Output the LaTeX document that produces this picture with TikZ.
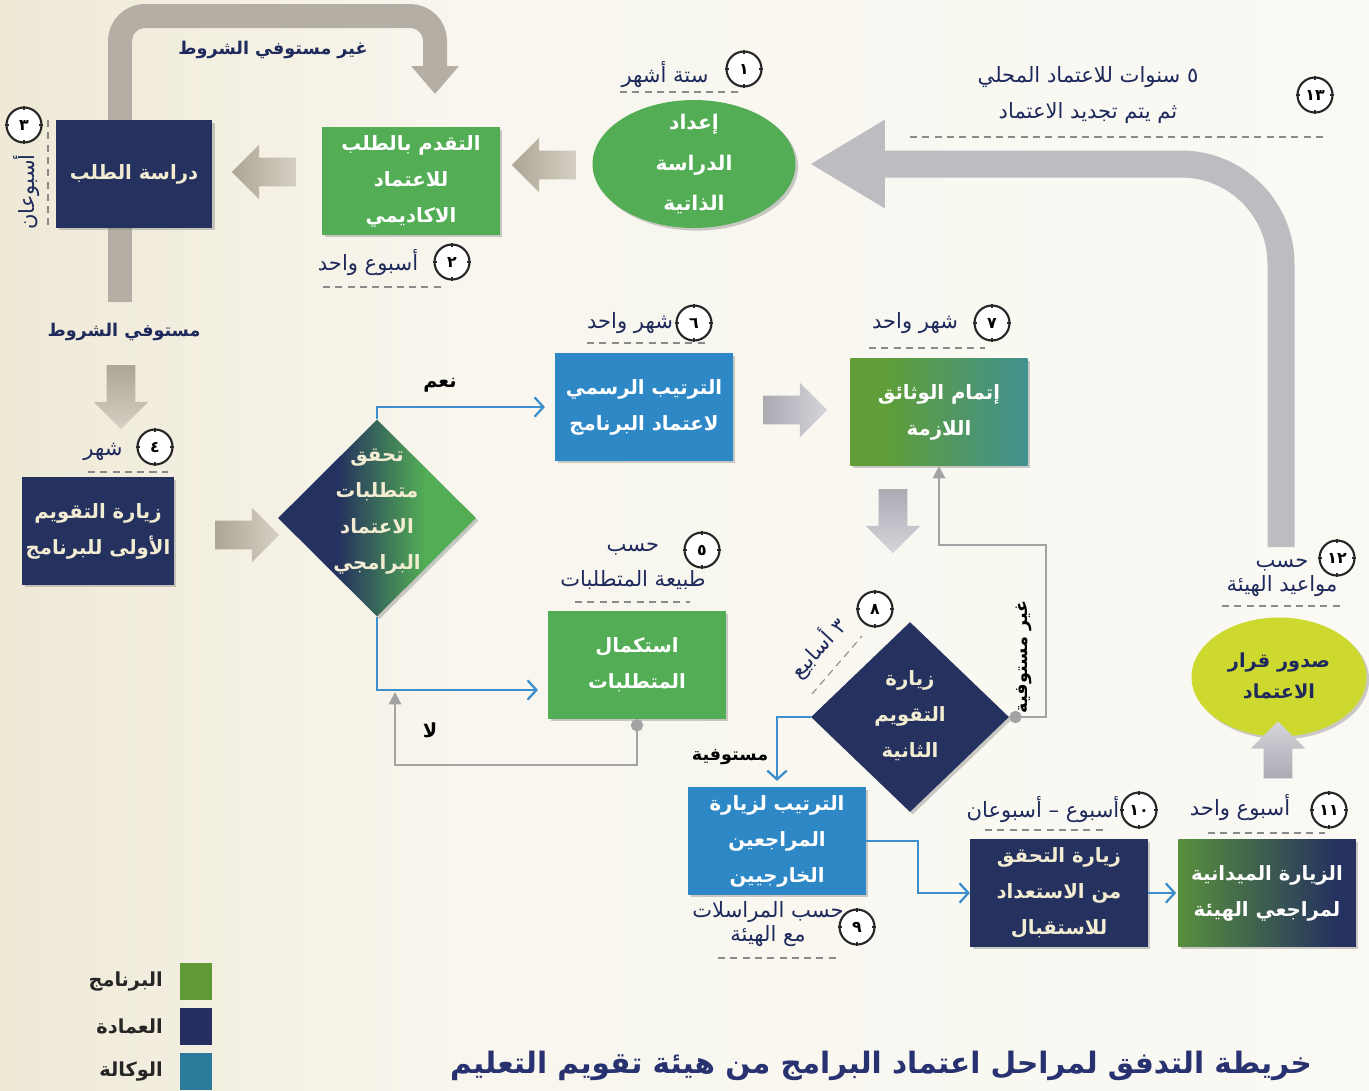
\documentclass[tikz,border=0pt]{standalone}
\usepackage{fontspec}
\usetikzlibrary{calc,shapes.geometric,shapes.arrows,arrows.meta,shadows}
\newfontfamily\arabicfont[Script=Arabic]{DejaVu Sans}
\TeXXeTstate=1
\def\rtl#1{\beginR#1\endR}
\def\boxfont{\arabicfont\bfseries\fontsize{11.2}{20.5}\selectfont}
\def\tagfont{\arabicfont\fontsize{12}{20}\selectfont}
\def\lblfont{\arabicfont\bfseries\fontsize{10}{13}\selectfont}

\definecolor{dnavy}{HTML}{25315F}
\definecolor{pgreen}{HTML}{52AD55}
\definecolor{lgreen}{HTML}{5F9E38}
\definecolor{vblue}{HTML}{2F88C6}
\definecolor{yellowgreen}{HTML}{CDD92E}
\definecolor{legteal}{HTML}{2C7A9A}
\definecolor{legnavy}{HTML}{263060}
\definecolor{leggreen}{HTML}{5F9A37}
\definecolor{cream}{HTML}{F2ECD2}
\definecolor{lblnavy}{HTML}{1F2A5C}
\definecolor{linkblue}{HTML}{3C8ECD}
\definecolor{linkgray}{HTML}{A3A3A3}
\definecolor{ugray}{HTML}{B5AEA4}
\definecolor{bgray}{HTML}{BDBCC1}
\definecolor{arrdark}{HTML}{ADA595}
\definecolor{arrlight}{HTML}{D6D0C4}
\definecolor{arrdarkb}{HTML}{ABAAB3}
\definecolor{arrlightb}{HTML}{D5D5DB}
\definecolor{bgtan}{HTML}{D3C28E}
\definecolor{bgmid}{HTML}{ECE5CF}
\definecolor{bglight}{HTML}{F8F6EE}
\definecolor{bgwhite}{HTML}{FBFBF8}
\definecolor{dashgray}{HTML}{8A8A8A}
\definecolor{titlenavy}{HTML}{283270}

\pgfdeclarehorizontalshading{paper}{100bp}{color(0bp)=(bgtan); color(20bp)=(bgmid); color(42bp)=(bglight); color(100bp)=(bgwhite)}
\pgfdeclarehorizontalshading{navygreen}{100bp}{color(0bp)=(dnavy); color(40bp)=(dnavy); color(62bp)=(pgreen); color(100bp)=(pgreen)}
\pgfdeclarehorizontalshading{greenblue}{100bp}{color(0bp)=(lgreen); color(35bp)=(lgreen); color(100bp)=(vblue)}
\pgfdeclarehorizontalshading{greennavy}{100bp}{color(0bp)=(lgreen); color(18bp)=(lgreen); color(70bp)=(dnavy); color(100bp)=(dnavy)}

\tikzset{
  softshadow/.style={drop shadow={shadow xshift=1.5pt, shadow yshift=-1.5pt, opacity=0.4}},
  box/.style={rectangle, minimum width=3.55cm, minimum height=2.15cm, inner sep=2pt, align=center, font=\boxfont, text=white, softshadow},
  diam/.style={diamond, minimum width=3.96cm, minimum height=3.94cm, inner sep=0pt, softshadow},
  oval/.style={ellipse, minimum width=4.06cm, minimum height=2.56cm, inner sep=0pt, softshadow},
  intext/.style={align=center, font=\boxfont, text=white, inner sep=0pt},
  clockface/.style={circle, draw=black!85, line width=1.2pt, fill=white, minimum size=0.7cm, inner sep=0pt, font=\arabicfont\bfseries\fontsize{9}{9}\selectfont, text=black},
  clocktick/.style={line width=0.6pt, black!85},
  tag/.style={font=\tagfont, text=lblnavy, align=center, inner sep=1pt},
  edgelbl/.style={font=\lblfont, text=black, inner sep=1pt},
  dashrule/.style={dashgray, line width=0.6pt, dash pattern=on 4pt off 3pt},
  bluelink/.style={linkblue, line width=1.3pt, -{Straight Barb[length=5pt,width=11pt]}},
  graylink/.style={linkgray, line width=1.4pt, {Circle[length=7pt]}-{Triangle[length=7pt,width=7pt]}},
  blockarrow/.style={single arrow, single arrow head extend=0.26cm, single arrow head indent=0pt, minimum height=1.28cm, inner sep=0.28cm, draw=none},
  ubar/.style={ugray, line width=0.48cm, rounded corners=0.5cm, -{Triangle[length=0.56cm,width=0.92cm]}},
  bigbar/.style={bgray, line width=0.54cm, rounded corners=2cm, -{Triangle[length=1.5cm,width=1.66cm]}},
  swatch/.style={rectangle, minimum width=0.66cm, minimum height=0.74cm, inner sep=0pt},
  legendtext/.style={font=\arabicfont\bfseries\fontsize{11}{13}\selectfont, text=black!85, inner sep=0pt}
}

\newcommand\clock[3]{%
  \node[clockface] (#1) at (#2) {#3};
  \foreach \ang in {0,90,180,270}
    \draw[clocktick] (#1.\ang) -- ++(\ang+180:2.2pt);
}

\begin{document}
\begin{tikzpicture}[x=0.02cm,y=-0.02cm]
		%%%%% START %%%%%
		\shade[shading=paper] (0,0) rectangle (1369,1090);
		\useasboundingbox (0,0) rectangle (1369,1090);
		
		% back to the application when the conditions are not met
		\coordinate (fail) at (120,302);
		\coordinate (failturn) at (435,16);
		\coordinate (failtip) at (435,94);
		\draw[ubar] (fail) |- (failturn) -- (failtip);
		
		% stages
		\node[box, fill=dnavy, text=cream, minimum width=3.12cm] (review) at (134,174) {\rtl{دراسة الطلب}};
		\node[box, fill=pgreen] (apply) at (411,181) {\rtl{التقدم بالطلب}\\\rtl{للاعتماد}\\\rtl{الاكاديمي}};
		\node[oval, fill=pgreen] (study) at (694,164) {};
		\node[intext, font=\arabicfont\bfseries\fontsize{11.5}{23}\selectfont] (study-text) at (694,164) {\rtl{إعداد}\\\rtl{الدراسة}\\\rtl{الذاتية}};
		
		\node[box, fill=dnavy, text=cream, minimum width=3cm] (visit1) at (98,531) {\rtl{زيارة التقويم}\\\rtl{الأولى للبرنامج}};
		\node[diam, shade, shading=navygreen] (check) at (377,518) {};
		\node[intext, text=cream] (check-text) at (377,512) {\rtl{تحقق}\\\rtl{متطلبات}\\\rtl{الاعتماد}\\\rtl{البرامجي}};
		\node[box, fill=vblue] (formal) at (644,407) {\rtl{الترتيب الرسمي}\\\rtl{لاعتماد البرنامج}};
		\node[box, shade, shading=greenblue] (docs) at (939,412) {\rtl{إتمام الوثائق}\\\rtl{اللازمة}};
		\node[box, fill=pgreen] (complete) at (637,665) {\rtl{استكمال}\\\rtl{المتطلبات}};
		
		\node[diam, fill=dnavy, minimum height=3.8cm] (visit2) at (910,717) {};
		\node[intext, text=cream] (visit2-text) at (910,716) {\rtl{زيارة}\\\rtl{التقويم}\\\rtl{الثانية}};
		\node[box, fill=vblue] (arrange) at (777,841) {\rtl{الترتيب لزيارة}\\\rtl{المراجعين}\\\rtl{الخارجيين}};
		\node[box, fill=dnavy, text=cream] (ready) at (1059,893) {\rtl{زيارة التحقق}\\\rtl{من الاستعداد}\\\rtl{للاستقبال}};
		\node[box, shade, shading=greennavy] (field) at (1267,893) {\rtl{الزيارة الميدانية}\\\rtl{لمراجعي الهيئة}};
		\node[oval, fill=yellowgreen, minimum width=3.5cm, minimum height=2.38cm] (decision) at (1279,677) {};
		\node[intext, text=lblnavy, font=\arabicfont\bfseries\fontsize{11}{18}\selectfont] (decision-text) at (1279,676) {\rtl{صدور قرار}\\\rtl{الاعتماد}};
		
		% block arrows
		\node[blockarrow, shape border rotate=180, left color=arrdark, right color=arrlight] (apply-review) at (271,172) {};
		\node[blockarrow, shape border rotate=180, left color=arrdark, right color=arrlight] (study-apply) at (551,165) {};
		\node[blockarrow, shape border rotate=270, top color=arrdark, bottom color=arrlight] (review-visit1) at (121,390) {};
		\node[blockarrow, left color=arrdark, right color=arrlight] (visit1-check) at (240,535) {};
		\node[blockarrow, left color=arrdarkb, right color=arrlightb] (formal-docs) at (788,410) {};
		\node[blockarrow, shape border rotate=270, top color=arrdarkb, bottom color=arrlightb] (docs-visit2) at (893,514) {};
		\node[blockarrow, shape border rotate=90, bottom color=arrdarkb, top color=arrlightb, minimum height=1.14cm] (field-decision) at (1278,757) {};
		
		% links
		\draw[bluelink, shorten >=0.2cm] (check.north) |- (formal.west);
		\draw[bluelink, shorten >=0.2cm] (check.south) |- ([yshift=-0.5cm]complete.west);
		\coordinate (nobend) at (395,765);
		\coordinate (nojoin) at (395,692);
		\draw[graylink] (complete.south) |- (nobend) -- (nojoin);
		\coordinate (redo) at (1046,545);
		\draw[graylink] (visit2.east) -| (redo) -| (docs.south);
		\draw[bluelink, shorten >=0.12cm] (visit2.west) -| (arrange.north);
		\coordinate (bridge) at (918,868);
		\draw[bluelink] (arrange.east) -| (bridge) |- (ready.west);
		\draw[bluelink, shorten >=1pt] (ready) -- (field);
		
		% renewal after five years
		\coordinate (renew) at (1281,547);
		\draw[bigbar, shorten >=0.28cm] (renew) |- (study.east);
		
		% edge labels
		\node[edgelbl, text=lblnavy] (l-fail) at (273,50) {\rtl{غير مستوفي الشروط}};
		\node[edgelbl, text=lblnavy] (l-pass) at (124,332) {\rtl{مستوفي الشروط}};
		\node[edgelbl, font=\arabicfont\bfseries\fontsize{11}{13}\selectfont] (l-yes) at (440,385) {\rtl{نعم}};
		\node[edgelbl, font=\arabicfont\bfseries\fontsize{11}{13}\selectfont] (l-no) at (430,730) {\rtl{لا}};
		\node[edgelbl] (l-ok) at (730,757) {\rtl{مستوفية}};
		\node[edgelbl, rotate=90] (l-notok) at (1024,657) {\rtl{غير مستوفية}};
		
		% durations
		\clock{c1}{744,69}{١}
		\node[tag] (t1) at (665,75) {\rtl{ستة أشهر}};
		\draw[dashrule] (620,92) -- (738,92);
		\clock{c2}{452,262}{٢}
		\node[tag] (t2) at (368,263) {\rtl{أسبوع واحد}};
		\draw[dashrule] (323,287) -- (442,287);
		\clock{c3}{24,125}{٣}
		\node[tag, rotate=90] (t3) at (27,192) {\rtl{أسبوعان}};
		\draw[dashrule] (48,120) -- (48,228);
		\clock{c4}{155,447}{٤}
		\node[tag] (t4) at (103,452) {\rtl{شهر}};
		\draw[dashrule] (88,472) -- (168,472);
		\clock{c5}{702,550}{٥}
		\node[tag] (t5) at (633,566) {\rtl{حسب}\\\rtl{طبيعة المتطلبات}};
		\draw[dashrule] (575,602) -- (690,602);
		\clock{c6}{694,323}{٦}
		\node[tag] (t6) at (630,323) {\rtl{شهر واحد}};
		\draw[dashrule] (587,343) -- (705,343);
		\clock{c7}{992,323}{٧}
		\node[tag] (t7) at (915,323) {\rtl{شهر واحد}};
		\draw[dashrule] (869,348) -- (985,348);
		\clock{c8}{875,609}{٨}
		\node[tag, rotate=47] (t8) at (818,648) {\rtl{٣ أسابيع}};
		\draw[dashrule] (812,694) -- (862,636);
		\clock{c9}{857,927}{٩}
		\node[tag, font=\arabicfont\fontsize{12}{14}\selectfont] (t9) at (768,924) {\rtl{حسب المراسلات}\\\rtl{مع الهيئة}};
		\draw[dashrule] (718,958) -- (837,958);
		\clock{c10}{1139,810}{١٠}
		\node[tag] (t10) at (1043,810) {\rtl{أسبوع – أسبوعان}};
		\draw[dashrule] (985,830) -- (1107,830);
		\clock{c11}{1329,810}{١١}
		\node[tag] (t11) at (1240,808) {\rtl{أسبوع واحد}};
		\draw[dashrule] (1208,833) -- (1325,833);
		\clock{c12}{1337,558}{١٢}
		\node[tag, font=\arabicfont\fontsize{12}{14}\selectfont] (t12) at (1282,578) {\rtl{حسب}\\\rtl{مواعيد الهيئة}};
		\draw[dashrule] (1222,606) -- (1343,606);
		\clock{c13}{1315,95}{١٣}
		\node[tag] (t13) at (1088,95) {\rtl{٥ سنوات للاعتماد المحلي}\\\rtl{ثم يتم تجديد الاعتماد}};
		\draw[dashrule] (910,137) -- (1325,137);
		
		% legend
		\node[swatch, fill=leggreen] (sw-prog) at (196,981) {};
		\node[swatch, fill=legnavy] (sw-dean) at (196,1026) {};
		\node[swatch, fill=legteal] (sw-vice) at (196,1071) {};
		\node[legendtext, anchor=east] (lg-prog) at ([xshift=-0.32cm]sw-prog.west) {\rtl{البرنامج}};
		\node[legendtext, anchor=east] (lg-dean) at ([xshift=-0.32cm]sw-dean.west) {\rtl{العمادة}};
		\node[legendtext, anchor=east] (lg-vice) at ([xshift=-0.32cm]sw-vice.west) {\rtl{الوكالة}};
		
		\node[font=\arabicfont\bfseries\fontsize{16.8}{20}\selectfont, text=titlenavy] (title) at (881,1066) {\rtl{خريطة التدفق لمراحل اعتماد البرامج من هيئة تقويم التعليم}};
		%%%%% END %%%%%
\end{tikzpicture}
\end{document}
